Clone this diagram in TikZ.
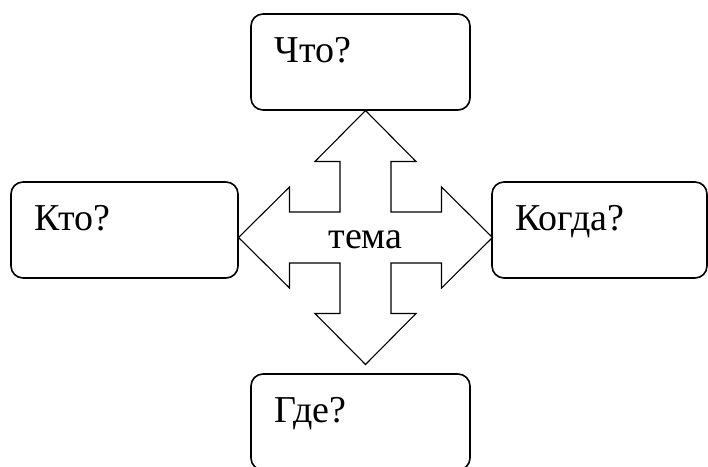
\documentclass[tikz,border=0pt]{standalone}
\usepackage{fontspec}
\setmainfont{Liberation Serif}
\newfontfamily\qfont{Liberation Serif}
\usetikzlibrary{calc}
\begin{document}
\begin{tikzpicture}[x=1pt,y=-1pt,
  qbox/.style={draw, line width=1.6pt, rounded corners=12pt,
    minimum height=96pt, inner sep=0pt},
  qtext/.style={anchor=base west, inner sep=0pt, font=\qfont\fontsize{38}{40}\selectfont},
  cross/.style={draw, line width=1.1pt, fill=white, line join=miter}]
  \useasboundingbox (0,0) rectangle (708,466);
  \clip (0,0) rectangle (708,466);

  % question boxes
  \node[qbox, minimum width=219pt] (what)  at (360.5,62)  {};
  \node[qbox, minimum width=227pt] (who)   at (124.5,230) {};
  \node[qbox, minimum width=215pt] (when)  at (599.5,230) {};
  \node[qbox, minimum width=219pt] (where) at (360.5,422) {};

  \node[qtext] (whatT)  at ($(what.north west)+(24,49)$)  {Что?};
  \node[qtext] (whoT)   at ($(who.north west)+(24,49)$)   {Кто?};
  \node[qtext] (whenT)  at ($(when.north west)+(24,49)$)  {Когда?};
  \node[qtext] (whereT) at ($(where.north west)+(24,49)$) {Где?};

  % four-way arrow around the topic
  \coordinate (c) at (365.5,237.5);
  \draw[cross, shift={(c)}]
    (0,-127) -- (50.5,-76) -- (25.5,-76) -- (25.5,-25.5) -- (76,-25.5)
    -- (76,-50.5) -- (127,0) -- (76,50.5) -- (76,25.5) -- (25.5,25.5)
    -- (25.5,76) -- (50.5,76) -- (0,127) -- (-50.5,76) -- (-25.5,76)
    -- (-25.5,25.5) -- (-76,25.5) -- (-76,50.5) -- (-127,0) -- (-76,-50.5)
    -- (-76,-25.5) -- (-25.5,-25.5) -- (-25.5,-76) -- (-50.5,-76) -- cycle;

  \node[qtext, anchor=base] (topic) at (365.5,248) {тема};
\end{tikzpicture}
\end{document}
